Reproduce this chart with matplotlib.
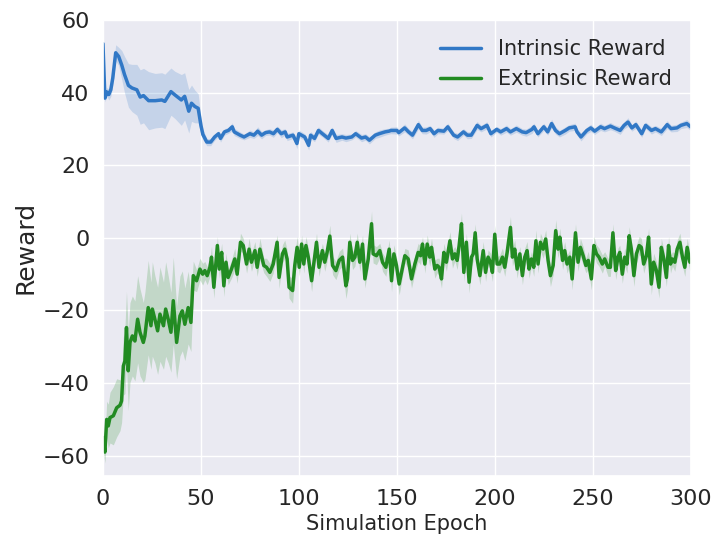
"""
Intrinsic vs extrinsic reward over simulation epochs (mean line + spread band).
"""

import matplotlib
matplotlib.use('Agg')
import matplotlib.pyplot as plt
import numpy as np
import seaborn as sns

# ── Data: intrinsic reward ────────────────────────────────────────────────────

blue_epoch = [
    0, 1, 2, 3, 4, 5, 6.5, 8, 9.6, 11,
    13, 14.8, 17.3, 19, 20.7, 23.3, 26.7, 30, 31.6, 34.7,
    36.7, 40, 41.7, 43.8, 45.2, 46.9, 48.6, 50, 51, 53,
    55, 57, 59, 60, 62, 64, 66, 67, 70, 72,
    75, 77, 79, 81, 83, 85, 87, 89, 91, 93,
    94, 97, 99, 100, 103, 105, 106, 108, 110, 112,
    115, 117, 119, 122, 124, 127, 129, 132, 134, 136,
    139, 141, 144, 146, 147, 150, 151, 154, 156, 158,
    161, 163, 165, 167, 169, 171, 174, 176, 179, 181,
    184, 186, 188, 191, 193, 196, 198, 201, 203, 206,
    208, 211, 214, 216, 219, 220, 222, 225, 227, 229,
    231, 233, 236, 238, 241, 242, 244, 247, 249, 251,
    254, 256, 259, 261, 264, 266, 268, 270, 272, 275,
    277, 280, 282, 285, 288, 290, 293, 295, 298, 300,
]
blue_reward = [
    53.5, 38.5, 40.2, 39.5, 40.8, 44.0, 51.0, 50.0, 47.6, 45.0,
    42.0, 41.3, 40.8, 38.8, 39.2, 37.8, 37.8, 38.0, 37.6, 40.3,
    39.4, 38.0, 39.0, 34.9, 37.1, 36.2, 35.7, 31.0, 28.5, 26.4,
    26.4, 27.8, 28.7, 27.4, 29.2, 29.6, 30.6, 29.2, 28.3, 27.8,
    28.7, 28.3, 29.4, 28.3, 29.0, 29.2, 28.7, 29.9, 28.7, 29.2,
    27.8, 28.3, 26.0, 28.7, 27.8, 25.5, 28.3, 27.4, 29.6, 28.7,
    27.4, 29.6, 27.4, 27.8, 27.5, 27.8, 28.7, 27.5, 27.8, 26.9,
    28.3, 28.7, 29.2, 29.4, 29.6, 29.6, 29.0, 30.3, 29.2, 28.3,
    31.2, 29.6, 29.6, 30.1, 28.7, 29.6, 29.4, 30.6, 28.3, 27.8,
    29.2, 28.3, 28.3, 31.0, 30.1, 31.0, 28.7, 29.9, 29.2, 30.1,
    29.2, 30.1, 29.2, 29.0, 29.9, 30.6, 28.7, 30.6, 29.2, 31.5,
    29.6, 28.7, 29.6, 30.3, 30.6, 29.2, 27.8, 29.6, 30.3, 29.4,
    30.6, 30.1, 30.8, 30.3, 29.6, 31.0, 31.9, 30.3, 31.2, 28.7,
    31.0, 29.6, 30.1, 29.2, 31.2, 30.1, 30.3, 31.0, 31.5, 30.6,
]
blue_spread = [
    0.5, 1.0, 1.2, 1.5, 1.8, 2.0, 2.2, 2.5, 4.0, 5.0,
    6.0, 6.5, 7.0, 7.5, 7.5, 8.0, 7.5, 7.5, 7.5, 6.5,
    6.5, 7.0, 6.5, 6.0, 5.0, 4.5, 4.0, 2.5, 1.5, 1.0,
    1.0, 0.9, 0.8, 1.0, 0.9, 0.8, 1.1, 1.0, 0.9, 0.8,
    1.0, 0.9, 1.2, 1.0, 0.8, 0.9, 1.0, 0.9, 1.1, 0.9,
    1.0, 0.9, 1.4, 1.0, 0.9, 1.3, 1.0, 0.9, 1.0, 0.9,
    1.0, 0.9, 1.1, 0.9, 1.0, 0.8, 0.9, 1.0, 0.9, 1.0,
    0.9, 1.0, 0.9, 0.8, 0.9, 1.0, 0.9, 1.1, 0.9, 1.0,
    1.2, 0.9, 1.0, 0.9, 1.0, 0.9, 0.8, 1.0, 0.9, 1.0,
    0.9, 1.0, 0.9, 1.1, 0.9, 1.0, 0.9, 0.8, 0.9, 1.0,
    0.9, 1.0, 0.9, 1.0, 1.1, 1.0, 0.9, 1.0, 0.9, 1.2,
    1.0, 0.9, 1.0, 0.9, 1.0, 0.9, 1.1, 0.9, 1.0, 0.9,
    1.0, 0.9, 1.0, 0.9, 1.1, 1.0, 1.2, 0.9, 1.0, 1.0,
    0.9, 1.0, 0.9, 1.0, 1.1, 0.9, 1.0, 0.9, 1.1, 1.0,
]

# ── Data: extrinsic reward ────────────────────────────────────────────────────

green_epoch = [
    0, 1, 1.9, 2.7, 3.6, 5.3, 7, 8.7, 9.5, 10.4,
    11.2, 12, 12.9, 13.8, 15, 16.3, 17.7, 18.9, 20.6, 21.4,
    23.1, 24.5, 25.2, 26.5, 27.9, 29.1, 30.9, 32, 33.3, 34.7,
    35.9, 37.6, 39.3, 40.5, 41.8, 43.5, 44.9, 46.1, 47.8, 49.5,
    50.9, 52, 53.2, 54.6, 55.4, 56.6, 58.4, 59.4, 60.6, 61.7,
    62.8, 63.9, 65.6, 67.3, 68.5, 70.2, 71.6, 73.3, 74.6, 75.8,
    77.6, 78.7, 80.1, 82.1, 83.5, 85.2, 86.9, 88.9, 89.9, 91.6,
    92.8, 94, 95, 96.8, 97.9, 99.1, 100.2, 101.4, 102.5, 103.6,
    104.8, 106.5, 107.6, 109, 110.3, 112, 113.2, 114.4, 115.8, 117.2,
    118.9, 120.6, 122.3, 124, 124.8, 126, 127.4, 128.6, 129.8, 131.1,
    132.5, 133.7, 135.4, 137.1, 137.9, 139.6, 141.3, 142.7, 144.4, 146.1,
    147.3, 148.5, 149.8, 151.2, 152.4, 154.1, 155.8, 157.5, 159.2, 160.9,
    162.1, 163.1, 164.3, 165.5, 166.8, 167.7, 169.4, 170.6, 171.6, 172.8,
    174, 175.3, 177.1, 178.4, 179.6, 180.8, 181.8, 183, 184.2, 185.5,
    186.9, 188.1, 189, 190, 191, 192.4, 194.1, 195.3, 196.6, 197.8,
    198.8, 200, 201.2, 202.5, 203.9, 205.1, 206.3, 208, 209, 210.2,
    211.4, 212.8, 214.1, 215.3, 216.5, 217.5, 218.7, 219.9, 221, 222.1,
    223.3, 224.7, 226, 227.2, 228.4, 229.8, 231.1, 232.3, 233.2, 234.6,
    235.7, 236.9, 238.3, 239.5, 241.2, 242.5, 243.7, 245.1, 246.5, 247.7,
    249.3, 250.6, 251.9, 253.2, 254.9, 256.1, 257.8, 259, 260.3, 261.7,
    262.9, 263.8, 265.1, 266.3, 267.5, 268.6, 269.7, 271, 272.3, 273.7,
    274.8, 276, 277.4, 278.5, 279.9, 281.1, 282.5, 283.8, 285, 286.3,
    287.6, 288.7, 289.7, 290.7, 291.9, 293.1, 294.5, 295.8, 297, 298.2,
    299.6, 300,
]
green_reward = [
    -55, -59, -50, -51.8, -49.5, -49, -46.8, -46.1, -44.9, -35.3,
    -33.9, -24.7, -36.6, -28.8, -27, -28.4, -22.4, -26, -28.8, -27,
    -19.2, -24.2, -19.6, -22.4, -25.6, -21, -24.2, -19.6, -22.4, -26,
    -17.3, -28.8, -21.5, -20.1, -23.8, -19.2, -23.3, -10.4, -11.8, -8.6,
    -10, -9, -10.4, -8.1, -5.3, -13.6, -2.1, -8.6, -4, -13.2,
    -6.7, -10.9, -8.6, -5.8, -10, -1.2, -2.1, -7.2, -3.1, -6.7,
    -3.5, -8.1, -3.1, -7.6, -8.1, -9.5, -7.2, -1.2, -10.9, -4.4,
    -3.1, -5.8, -13.6, -14.5, -7.6, -2.6, -8.1, -1.7, -7.2, -2.1,
    -5.3, -11.8, -7.2, -1.2, -8.1, -3.5, -6.7, -4, 0.5, -7.6,
    -9, -6.2, -5.3, -13.2, -11.3, -1.2, -6.2, -5.3, -1.2, -6.7,
    -1.7, -11.3, -5.8, 3.9, -4.4, -4.9, -3.5, -6.7, -8.1, -3.1,
    -11.8, -4.4, -7.6, -12.7, -9.5, -4.9, -5.8, -11.3, -7.2, -4,
    -4.9, -1.7, -7.2, -1.7, -5.3, -2.6, -8.6, -7.6, -8.1, -11.3,
    -4, -6.7, -0.8, -5.8, -4.4, -6.2, -2.1, 3.9, -9.5, -1.2,
    -12.2, -5.3, -4.4, 1.4, -5.8, -10.4, -3.5, -9.5, -5.3, -6.7,
    -9.5, 1.0, -7.2, -7.2, -5.3, -8.1, -4, 2.9, -5.3, -3.1,
    -8.6, -4.4, -10.4, -5.3, -3.5, -8.6, -5.8, -8.1, -0.8, -7.2,
    -1.2, -3.1, -0.3, -6.2, -10.4, -7.6, 2.0, -3.1, 0.2, -6.2,
    -3.5, -7.2, -5.3, -11.3, 1.4, -6.7, -2.6, -4.9, -7.6, -6.2,
    -11.3, -2.1, -4.4, -5.3, -7.2, -5.8, -8.1, -8.1, 1.4, -9,
    -5.3, -4, -10, -5.3, -7.2, 0.6, -3.1, -10.4, -4.4, -2.1,
    -2.6, -7.2, -4.9, 0.2, -12.7, -6.7, -9, -13.6, -2.6, -5.8,
    -10.9, -2.1, -7.2, -5.8, -6.7, -3.1, -1.2, -5.3, -8.1, -2.6,
    -6.7, -6.0,
]
green_spread = [
    3, 3, 5, 6, 7, 8, 8, 7, 6, 8,
    9, 10, 11, 11, 11, 11, 12, 12, 11, 12,
    13, 12, 13, 12, 12, 13, 12, 13, 12, 11,
    12, 10, 11, 11, 10, 10, 8, 4, 3, 3,
    3, 2.5, 2.5, 2.5, 3, 3, 2.5, 2.5, 2.5, 3,
    2.5, 2.0, 2.5, 3.0, 2.5, 2.5, 2.0, 2.5, 3.0, 2.5,
    2.5, 2.5, 3.0, 2.0, 2.5, 2.5, 2.5, 2.0, 3.0, 2.5,
    2.5, 2.5, 3.0, 3.5, 3.0, 3.0, 2.5, 2.5, 2.5, 2.5,
    2.5, 3.0, 2.5, 2.5, 2.5, 2.0, 2.5, 2.5, 3.0, 2.5,
    2.5, 2.5, 2.5, 3.5, 3.0, 2.5, 2.5, 2.5, 2.5, 2.5,
    2.5, 2.5, 2.5, 3.5, 2.5, 2.5, 2.0, 2.5, 2.5, 2.5,
    3.0, 2.5, 2.5, 3.0, 2.5, 2.0, 2.5, 2.5, 2.5, 2.5,
    2.5, 2.0, 2.5, 2.5, 2.5, 2.5, 2.5, 2.0, 2.5, 2.5,
    2.5, 2.5, 2.5, 2.5, 2.0, 2.5, 2.5, 3.0, 2.5, 2.5,
    3.0, 2.5, 2.0, 2.5, 2.5, 2.5, 2.5, 2.5, 2.0, 2.5,
    2.5, 2.5, 2.0, 2.5, 2.5, 2.5, 2.5, 3.0, 2.5, 2.5,
    2.5, 2.0, 2.5, 2.5, 2.5, 2.5, 2.0, 2.5, 3.0, 2.5,
    2.5, 2.5, 2.5, 2.5, 3.0, 2.5, 3.0, 2.5, 2.5, 2.5,
    2.5, 2.5, 2.0, 3.0, 2.5, 2.5, 2.5, 2.5, 2.0, 2.5,
    3.0, 2.5, 2.5, 2.5, 2.5, 2.0, 2.5, 2.5, 2.5, 2.5,
    2.5, 2.0, 2.5, 2.5, 2.5, 2.5, 2.5, 3.0, 2.5, 2.5,
    2.5, 2.5, 2.0, 2.5, 3.0, 2.5, 2.5, 3.0, 2.5, 2.5,
    2.5, 2.5, 2.5, 2.0, 2.5, 2.5, 2.5, 2.5, 2.5, 2.5,
    2.5, 2.5,
]

BLUE  = '#3178c6'
GREEN = '#228b22'

# ── Plot ──────────────────────────────────────────────────────────────────────

sns.set_theme(style='darkgrid')
plt.rcParams['font.family'] = ['DejaVu Sans']

fig, ax = plt.subplots(figsize=(7.15, 5.43), dpi=100)
fig.subplots_adjust(left=0.144, right=0.966, top=0.963, bottom=0.124)

for ep, rew, spr, col, lab in [
    (blue_epoch, blue_reward, blue_spread, BLUE, 'Intrinsic Reward'),
    (green_epoch, green_reward, green_spread, GREEN, 'Extrinsic Reward'),
]:
    ep, rew, spr = np.array(ep), np.array(rew), np.array(spr)
    ax.fill_between(ep, rew - spr, rew + spr, color=col, alpha=0.2, linewidth=0)
    ax.plot(ep, rew, color=col, linewidth=2.5, label=lab)

ax.set_xlim(0, 300)
ax.set_ylim(-65.5, 60)
ax.set_xticks([0, 50, 100, 150, 200, 250, 300])
ax.set_yticks([-60, -40, -20, 0, 20, 40, 60])
ax.tick_params(labelsize=16)
ax.set_xlabel('Simulation Epoch', fontsize=15)
ax.set_ylabel('Reward', fontsize=18)
ax.legend(loc='upper right', fontsize=15, frameon=False)

plt.savefig('out.png', dpi=100)
plt.close()
